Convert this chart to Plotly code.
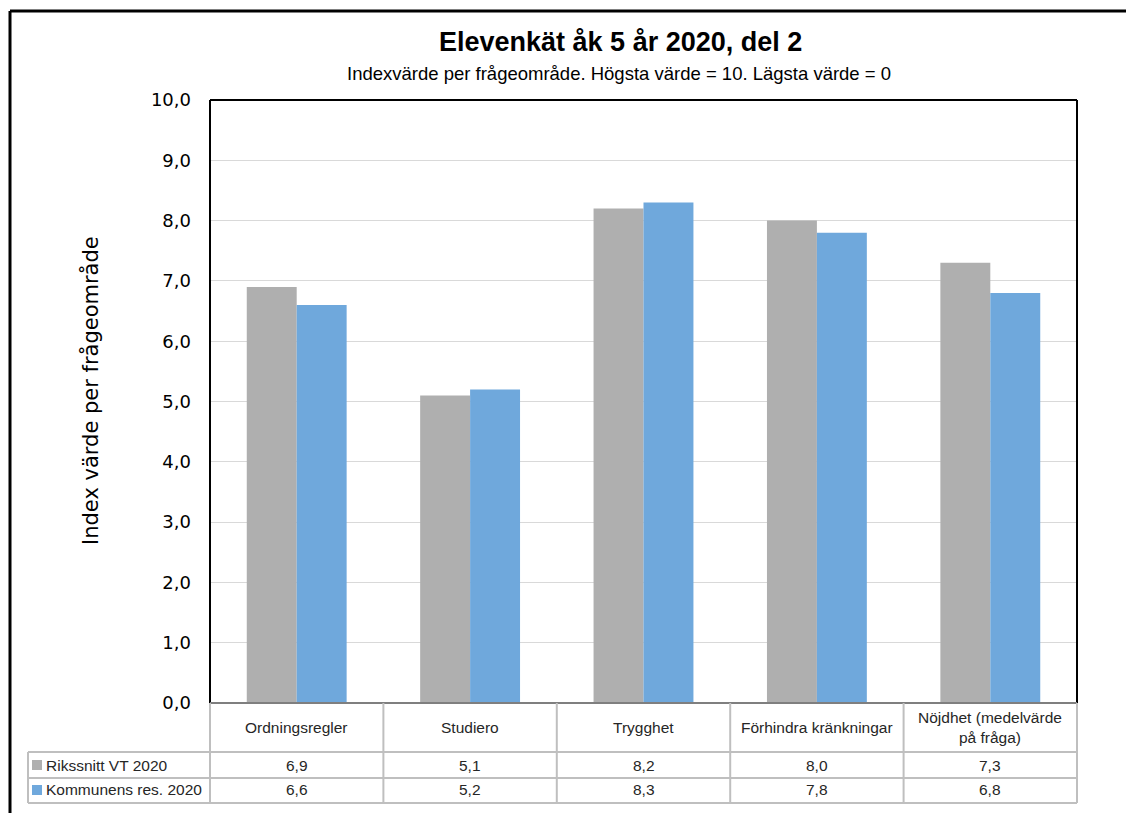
import plotly.graph_objects as go

categories = ["Ordningsregler", "Studiero", "Trygghet", "Förhindra kränkningar", "Nöjdhet (medelvärde<br>på fråga)"]
series_names = ["Rikssnitt VT 2020", "Kommunens res. 2020"]
riks = [6.9, 5.1, 8.2, 8.0, 7.3]
kommun = [6.6, 5.2, 8.3, 7.8, 6.8]
y_ticks = [0, 1, 2, 3, 4, 5, 6, 7, 8, 9, 10]

colors = ["#AFAFAF", "#6FA8DC"]
OFF = 8  # page body margin
W, H = 1134 - OFF, 813 - OFF
# plot area in screen pixels
SL, SR, ST, SB = 210, 1077, 100, 703
L, R, T, B = SL - OFF, SR - OFF, ST - OFF, SB - OFF

def px(x):
    return (x - SL) / (SR - SL)

def py(y):
    return (SB - y) / (SB - ST)

NARROW = "Liberation Sans Narrow, Arial Narrow, sans-serif"

fig = go.Figure()
for name, vals, col in zip(series_names, [riks, kommun], colors):
    fig.add_trace(go.Bar(x=list(range(len(categories))), y=vals, name=name,
                         marker=dict(color=col, line=dict(width=0)), hoverinfo="y"))

shapes = []
ann = []
# plot border
shapes.append(dict(type="line", xref="paper", yref="paper", x0=0, x1=0, y0=0, y1=1, line=dict(color="black", width=2)))
shapes.append(dict(type="line", xref="paper", yref="paper", x0=0, x1=1, y0=1, y1=1, line=dict(color="black", width=2)))
shapes.append(dict(type="line", xref="paper", yref="paper", x0=1, x1=1, y0=0, y1=1, line=dict(color="black", width=2)))
shapes.append(dict(type="line", xref="paper", yref="paper", x0=0, x1=1, y0=0, y1=0, line=dict(color="#7F7F7F", width=2)))

# outer frame
shapes.append(dict(type="line", xref="paper", yref="paper", x0=px(10), x1=px(10), y0=py(11), y1=py(820), line=dict(color="black", width=3)))
shapes.append(dict(type="line", xref="paper", yref="paper", x0=px(10), x1=px(1133), y0=py(11), y1=py(11), line=dict(color="black", width=3)))
shapes.append(dict(type="line", xref="paper", yref="paper", x0=px(1132.5), x1=px(1132.5), y0=py(11), y1=py(820), line=dict(color="#808080", width=1)))

# data table
n = len(categories)
colw = (SR - SL) / n
grid_col = "#BFBFBF"
tl = 28
rows_y = [752, 778, 803]
for yy in rows_y:
    shapes.append(dict(type="line", xref="paper", yref="paper", x0=px(tl), x1=px(SR), y0=py(yy), y1=py(yy), line=dict(color=grid_col, width=2)))
for i in range(n + 1):
    xx = SL + i * colw
    shapes.append(dict(type="line", xref="paper", yref="paper", x0=px(xx), x1=px(xx), y0=py(SB), y1=py(803), line=dict(color=grid_col, width=2)))
shapes.append(dict(type="line", xref="paper", yref="paper", x0=px(tl), x1=px(tl), y0=py(752), y1=py(803), line=dict(color=grid_col, width=2)))

tfont = dict(family=NARROW, size=15.5, color="#262626")
for i, c in enumerate(categories):
    cx = SL + (i + 0.5) * colw
    ann.append(dict(x=px(cx), y=py(727), xref="paper", yref="paper", text=c, showarrow=False,
                    font=tfont, xanchor="center", yanchor="middle"))
    for vals, ry in zip([riks, kommun], [765, 790]):
        ann.append(dict(x=px(cx), y=py(ry), xref="paper", yref="paper",
                        text=f"{vals[i]:.1f}".replace(".", ","), showarrow=False,
                        font=tfont, xanchor="center", yanchor="middle"))
for name, col, ry in zip(series_names, colors, [765, 790]):
    shapes.append(dict(type="rect", xref="paper", yref="paper", x0=px(32), x1=px(42), y0=py(ry - 5), y1=py(ry + 5),
                       fillcolor=col, line=dict(width=0)))
    ann.append(dict(x=px(44), y=py(ry), xref="paper", yref="paper", text=name, showarrow=False,
                    font=tfont, xanchor="left", yanchor="middle"))

# titles
ann.append(dict(x=px(620), y=py(42), xref="paper", yref="paper", text="<b>Elevenkät åk 5 år 2020, del 2</b>",
                showarrow=False, font=dict(family=NARROW, size=27, color="black"), xanchor="center", yanchor="middle"))
ann.append(dict(x=px(619), y=py(73), xref="paper", yref="paper",
                text="Indexvärde per frågeområde. Högsta värde = 10. Lägsta värde = 0",
                showarrow=False, font=dict(family=NARROW, size=18.5, color="black"), xanchor="center", yanchor="middle"))
ann.append(dict(x=px(90), y=py(390), xref="paper", yref="paper", text="Index värde per frågeområde",
                textangle=-90, showarrow=False, font=dict(family="DejaVu Sans, sans-serif", size=21, color="black"),
                xanchor="center", yanchor="middle"))

fig.update_layout(
    width=W, height=H,
    margin=dict(l=L, r=W - R, t=T, b=H - B, pad=0),
    paper_bgcolor="white", plot_bgcolor="white",
    barmode="group", bargap=0.424, bargroupgap=0,
    showlegend=False,
    separators=", ",
    shapes=shapes, annotations=ann,
    xaxis=dict(range=[-0.5, n - 0.5], showticklabels=False, showgrid=False, zeroline=False, showline=False, ticks=""),
    yaxis=dict(range=[0, 10], tickvals=y_ticks, tickformat=".1f", showgrid=True, gridcolor="#D9D9D9", gridwidth=1,
               zeroline=False, showline=False, ticks="", ticklabelstandoff=18,
               tickfont=dict(family="DejaVu Sans, sans-serif", size=18, color="black")),
)
fig.write_html("out.html")
